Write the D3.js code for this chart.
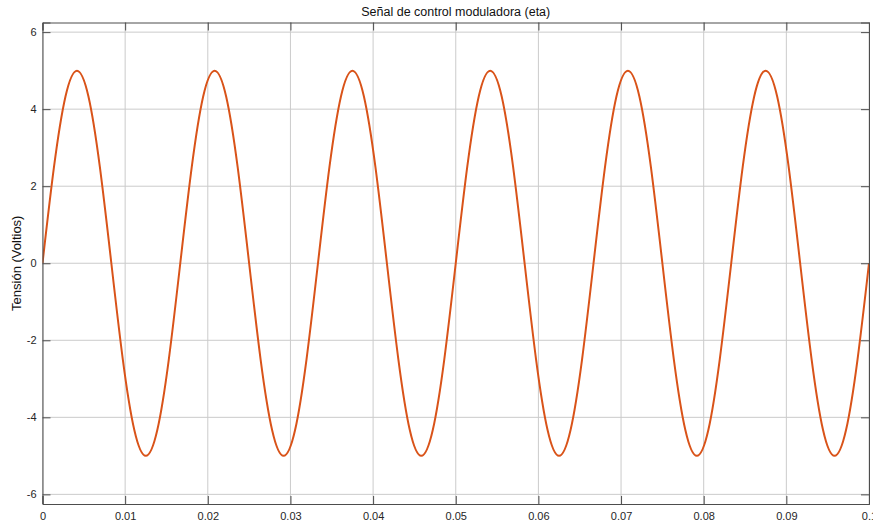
<!DOCTYPE html>
<html>
<head>
<meta charset="utf-8">
<script src="https://cdn.jsdelivr.net/npm/d3@7"></script>
<style>
  html, body { margin: 0; padding: 0; background: #fff; }
  svg { display: block; font-family: "Liberation Sans", Arial, Helvetica, sans-serif; }
</style>
</head>
<body>
<svg id="chart" width="873" height="522"></svg>
<script>
// Sampled control signal: time (s) and voltage (V)
const timeS = [
  0, 0.00139, 0.00278, 0.00417, 0.00556, 0.00694, 0.00833, 0.00972, 0.01111, 0.0125, 0.01389, 0.01528,
  0.01667, 0.01806, 0.01944, 0.02083, 0.02222, 0.02361, 0.025, 0.02639, 0.02778, 0.02917, 0.03056, 0.03194,
  0.03333, 0.03472, 0.03611, 0.0375, 0.03889, 0.04028, 0.04167, 0.04306, 0.04444, 0.04583, 0.04722, 0.04861,
  0.05, 0.05139, 0.05278, 0.05417, 0.05556, 0.05694, 0.05833, 0.05972, 0.06111, 0.0625, 0.06389, 0.06528,
  0.06667, 0.06806, 0.06944, 0.07083, 0.07222, 0.07361, 0.075, 0.07639, 0.07778, 0.07917, 0.08056, 0.08194,
  0.08333, 0.08472, 0.08611, 0.0875, 0.08889, 0.09028, 0.09167, 0.09306, 0.09444, 0.09583, 0.09722, 0.09861,
  0.1
];
const voltage = [
  0, 2.5, 4.33, 5, 4.33, 2.5, 0, -2.5, -4.33, -5, -4.33, -2.5,
  0, 2.5, 4.33, 5, 4.33, 2.5, 0, -2.5, -4.33, -5, -4.33, -2.5,
  0, 2.5, 4.33, 5, 4.33, 2.5, 0, -2.5, -4.33, -5, -4.33, -2.5,
  0, 2.5, 4.33, 5, 4.33, 2.5, 0, -2.5, -4.33, -5, -4.33, -2.5,
  0, 2.5, 4.33, 5, 4.33, 2.5, 0, -2.5, -4.33, -5, -4.33, -2.5,
  0, 2.5, 4.33, 5, 4.33, 2.5, 0, -2.5, -4.33, -5, -4.33, -2.5,
  0
];
const xTicks = [0, 0.01, 0.02, 0.03, 0.04, 0.05, 0.06, 0.07, 0.08, 0.09, 0.1];
const xTickLabels = ["0", "0.01", "0.02", "0.03", "0.04", "0.05", "0.06", "0.07", "0.08", "0.09", "0.1"];
const yTicks = [-6, -4, -2, 0, 2, 4, 6];
const yTickLabels = ["-6", "-4", "-2", "0", "2", "4", "6"];
const titleText = "Señal de control moduladora (eta)";
const yLabelText = "Tensión (Voltios)";

const svg = d3.select("#chart");
const plot = { left: 42.5, top: 22.5, right: 869, bottom: 504 };

const x = d3.scaleLinear().domain([0, 0.1]).range([plot.left, plot.right]);
const y = d3.scaleLinear().domain([-6.25, 6.25]).range([plot.bottom, plot.top]);

const gridColor = "#cbcbcb";
const axisColor = "#4d4d4d";
const tickLen = 8;

// Grid
const grid = svg.append("g");
grid.selectAll("line.gx").data(xTicks).join("line")
  .attr("x1", d => x(d)).attr("x2", d => x(d))
  .attr("y1", plot.top).attr("y2", plot.bottom)
  .attr("stroke", gridColor).attr("stroke-width", 1);
grid.selectAll("line.gy").data(yTicks).join("line")
  .attr("y1", d => y(d)).attr("y2", d => y(d))
  .attr("x1", plot.left).attr("x2", plot.right)
  .attr("stroke", gridColor).attr("stroke-width", 1);

// Signal curve
svg.append("clipPath").attr("id", "plotClip").append("rect")
  .attr("x", plot.left).attr("y", plot.top)
  .attr("width", plot.right - plot.left).attr("height", plot.bottom - plot.top);

const points = timeS.map((t, i) => [t, voltage[i]]);
const line = d3.line().x(d => x(d[0])).y(d => y(d[1])).curve(d3.curveNatural);
svg.append("path")
  .datum(points)
  .attr("clip-path", "url(#plotClip)")
  .attr("fill", "none")
  .attr("stroke", "#D95319")
  .attr("stroke-width", 2)
  .attr("d", line);

// Box frame with inward ticks on all four sides
const axisBottom = d3.axisBottom(x).tickValues(xTicks).tickSize(-tickLen).tickPadding(8)
  .tickFormat((d, i) => xTickLabels[i]);
const axisTop = d3.axisTop(x).tickValues(xTicks).tickSize(-tickLen).tickFormat("");
const axisLeft = d3.axisLeft(y).tickValues(yTicks).tickSize(-tickLen).tickPadding(6)
  .tickFormat((d, i) => yTickLabels[i]);
const axisRight = d3.axisRight(y).tickValues(yTicks).tickSize(-tickLen).tickFormat("");

function styleAxis(g) {
  g.select(".domain").attr("stroke", axisColor).attr("stroke-width", 1);
  g.selectAll(".tick line").attr("stroke", axisColor).attr("stroke-width", 1);
  g.selectAll(".tick text").attr("fill", "#262626").attr("font-size", 11)
    .attr("font-family", "\"Liberation Sans\", Arial, sans-serif");
}

svg.append("g").attr("transform", `translate(0,${plot.bottom})`).call(axisBottom).call(styleAxis);
svg.append("g").attr("transform", `translate(0,${plot.top})`).call(axisTop).call(styleAxis);
svg.append("g").attr("transform", `translate(${plot.left},0)`).call(axisLeft).call(styleAxis);
svg.append("g").attr("transform", `translate(${plot.right},0)`).call(axisRight).call(styleAxis);

// Title
svg.append("text")
  .attr("x", (plot.left + plot.right) / 2)
  .attr("y", 16)
  .attr("text-anchor", "middle")
  .attr("font-size", 12.5)
  .attr("fill", "#111")
  .text(titleText);

// Y axis label
svg.append("text")
  .attr("transform", `translate(21,${(plot.top + plot.bottom) / 2}) rotate(-90)`)
  .attr("text-anchor", "middle")
  .attr("font-size", 13)
  .attr("fill", "#111")
  .text(yLabelText);
</script>
</body>
</html>
